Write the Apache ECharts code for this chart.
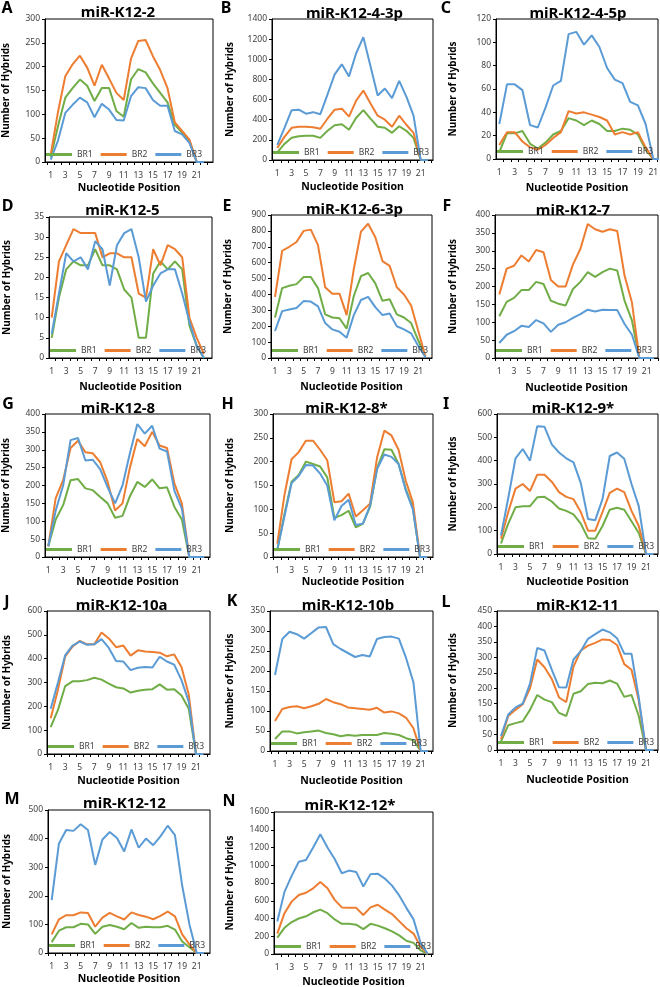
<!DOCTYPE html>
<html><head><meta charset="utf-8">
<script src="https://cdn.jsdelivr.net/npm/echarts@6/dist/echarts.min.js"></script>
<style>html,body{margin:0;padding:0;background:#fff}#c{width:660px;height:987px}</style>
</head><body><div id="c"></div>
<script>
// ---------- data ----------
const positions = [1,2,3,4,5,6,7,8,9,10,11,12,13,14,15,16,17,18,19,20,21,22];
const xTickLabels = [1,3,5,7,9,11,13,15,17,19,21];
const seriesNames = ['BR1','BR2','BR3'];
const panelLetters = ['A','B','C','D','E','F','G','H','I','J','K','L','M','N'];
const panelTitles = ['miR-K12-2','miR-K12-4-3p','miR-K12-4-5p','miR-K12-5','miR-K12-6-3p','miR-K12-7','miR-K12-8','miR-K12-8*','miR-K12-9*','miR-K12-10a','miR-K12-10b','miR-K12-11','miR-K12-12','miR-K12-12*'];
const yAxisMax = [300,1400,120,35,900,400,400,300,600,600,350,450,500,1600];
const yAxisStep = [50,200,20,5,100,50,50,50,100,100,50,50,100,200];

const A_BR1 = [10,75,135,155,173,160,128,155,155,107,95,173,195,188,165,145,125,78,62,45,0,0];
const A_BR2 = [15,105,180,205,223,198,160,204,175,145,130,217,254,256,222,193,155,83,65,47,0,0];
const A_BR3 = [5,45,103,120,135,125,94,122,110,88,87,138,157,155,130,118,118,65,58,40,0,0];

const B_BR1 = [75,160,220,235,240,240,220,290,345,355,300,420,495,410,330,320,270,335,290,220,0,0];
const B_BR2 = [120,230,320,330,330,325,310,410,500,510,430,590,690,560,440,400,330,440,350,270,0,0];
const B_BR3 = [150,320,495,500,460,475,455,650,850,950,830,1060,1220,930,640,710,615,785,630,440,0,0];

const C_BR1 = [6,22,22,24,13,9,14,21,24,35,33,29,33,30,24,24,26,25,21,8,0,0];
const C_BR2 = [12,23,23,15,10,8,12,18,23,41,39,40,38,36,33,21,23,21,23,10,0,0];
const C_BR3 = [30,64,64,59,29,27,44,63,67,107,109,98,106,96,78,68,65,49,46,30,0,0];

const D_BR1 = [5,15,22,24,23,23,27,23,23,22,17,15,5,5,21,24,22,24,22,8,3,0];
const D_BR2 = [10,24,28,32,31,31,31,25,26,26,25,25,16,15,27,23,28,27,25,10,5,1];
const D_BR3 = [6,16,26,24,25,22,29,27,18,28,31,32,25,14,18,21,22,22,16,9,3,0];

const E_BR1 = [255,440,455,465,510,510,440,275,255,250,185,390,515,535,470,360,370,275,255,220,110,10];
const E_BR2 = [385,675,700,730,800,808,710,445,405,405,270,560,795,845,760,610,580,445,400,330,170,10];
const E_BR3 = [170,295,305,315,358,355,325,220,180,165,128,270,365,385,320,270,280,200,180,155,75,5];

const F_BR1 = [117,157,168,190,190,213,207,160,152,147,193,213,240,227,240,250,245,160,105,0,0,0];
const F_BR2 = [178,250,258,287,270,302,296,218,200,200,262,305,375,360,353,360,355,230,155,0,0,0];
const F_BR3 = [42,65,75,90,87,106,97,73,93,100,112,123,135,130,135,134,134,95,65,0,0,0];

const G_BR1 = [30,105,145,215,218,192,187,168,150,110,115,170,210,196,217,192,195,140,105,0,0,0];
const G_BR2 = [30,165,215,305,325,293,290,265,210,130,150,250,330,310,350,312,305,205,150,0,0,0];
const G_BR3 = [30,130,200,327,333,270,272,245,195,150,200,290,372,345,367,303,295,185,135,0,0,0];

const H_BR1 = [15,90,158,172,200,195,190,167,82,88,97,62,70,105,187,226,225,195,143,103,0,0];
const H_BR2 = [28,130,205,220,244,244,225,203,115,117,133,85,98,112,210,265,255,225,160,115,0,0];
const H_BR3 = [15,85,155,170,193,192,175,150,77,107,120,67,70,108,185,215,210,195,140,100,0,0];

const I_BR1 = [45,130,200,205,205,243,245,225,195,185,170,130,68,65,120,190,198,190,140,90,0,0];
const I_BR2 = [65,180,280,300,270,340,340,310,265,245,235,180,100,100,180,262,280,265,185,120,0,0];
const I_BR3 = [80,240,410,450,400,548,545,470,435,410,393,305,150,145,235,420,435,408,300,205,0,0];

const J_BR1 = [113,185,285,305,305,310,320,312,295,280,275,258,265,270,272,292,270,272,245,190,0,0];
const J_BR2 = [150,270,410,450,475,460,460,510,485,448,455,413,435,430,428,425,410,418,365,250,0,0];
const J_BR3 = [190,300,415,455,472,458,460,482,445,390,388,352,362,365,363,408,388,375,310,220,0,0];

const K_BR1 = [30,49,49,44,47,49,51,45,42,37,40,38,40,40,40,45,43,40,32,27,0,0];
const K_BR2 = [75,105,110,112,107,112,118,130,122,117,109,107,105,103,108,96,99,94,83,57,0,0];
const K_BR3 = [190,280,298,292,281,295,309,310,267,255,245,235,240,236,280,285,286,281,232,172,0,0];

const L_BR1 = [28,80,87,93,130,178,163,155,120,110,182,190,214,218,216,225,215,172,178,110,0,0];
const L_BR2 = [35,110,130,148,200,293,268,230,170,155,270,322,338,347,358,356,340,278,260,160,0,0];
const L_BR3 = [45,115,138,150,215,330,322,260,203,202,293,320,360,375,390,381,362,312,312,170,0,0];

const M_BR1 = [38,78,90,90,102,100,67,92,98,92,83,105,88,92,90,90,95,82,40,20,0,0];
const M_BR2 = [65,118,132,132,142,140,92,124,140,128,117,142,133,127,118,130,145,128,65,30,0,0];
const M_BR3 = [185,383,430,427,450,430,308,397,423,402,355,432,368,400,377,408,445,412,235,100,0,0];

const N_BR1 = [185,295,360,400,425,470,500,460,390,340,340,330,280,340,320,290,255,210,150,125,40,0];
const N_BR2 = [230,460,590,665,690,740,810,740,610,525,520,520,440,525,555,500,450,370,290,230,80,0];
const N_BR3 = [365,700,880,1040,1060,1200,1350,1200,1070,910,940,925,760,900,905,850,770,660,520,390,120,0];

const panelData = [
  [A_BR1,A_BR2,A_BR3],[B_BR1,B_BR2,B_BR3],[C_BR1,C_BR2,C_BR3],
  [D_BR1,D_BR2,D_BR3],[E_BR1,E_BR2,E_BR3],[F_BR1,F_BR2,F_BR3],
  [G_BR1,G_BR2,G_BR3],[H_BR1,H_BR2,H_BR3],[I_BR1,I_BR2,I_BR3],
  [J_BR1,J_BR2,J_BR3],[K_BR1,K_BR2,K_BR3],[L_BR1,L_BR2,L_BR3],
  [M_BR1,M_BR2,M_BR3],[N_BR1,N_BR2,N_BR3]
];

// ---------- layout (pixels) ----------
// l,r,t,b: plot frame; c1,c21: pixel x of positions 1 and 21
const layout = [
  {l:45, r:213,t:19, b:162,c1:50.7, c21:196.7,tx:118,  ty:13,  lx:7,    ly:8,   yn:6,   xn:188},
  {l:272,r:433,t:19, b:160,c1:277.3,c21:420.7,tx:354.5,ty:14,  lx:226,  ly:8,   yn:230, xn:187},
  {l:496,r:658,t:19, b:159,c1:499.3,c21:653.3,tx:578,  ty:14,  lx:446,  ly:8,   yn:453, xn:188},
  {l:49, r:212,t:217,b:358,c1:51.7, c21:196.7,tx:122.5,ty:211, lx:7.5,  ly:206, yn:7,   xn:387},
  {l:271,r:432,t:215,b:358,c1:275,  c21:418.3,tx:354.5,ty:209.5,lx:227, ly:206, yn:228, xn:387},
  {l:495,r:658,t:215,b:358,c1:499.3,c21:646.7,tx:573,  ty:211, lx:447,  ly:206, yn:453, xn:388},
  {l:45, r:210,t:414,b:557,c1:48.3, c21:196.7,tx:118,  ty:409, lx:8,    ly:404, yn:6,   xn:582},
  {l:273,r:433,t:414,b:557,c1:277.3,c21:420,  tx:346.5,ty:409, lx:227.5,ly:404, yn:230, xn:582},
  {l:497,r:658,t:414,b:554,c1:501,  c21:646,  tx:573,  ty:409, lx:446,  ly:404, yn:453, xn:582},
  {l:47, r:210,t:611,b:754,c1:50.7, c21:196,  tx:121.7,ty:606, lx:7,    ly:602, yn:7,   xn:781},
  {l:270,r:433,t:611,b:751,c1:275,  c21:420.7,tx:348,  ty:606, lx:232,  ly:601, yn:230, xn:781},
  {l:497,r:658,t:611,b:750,c1:501,  c21:646,  tx:577.5,ty:606, lx:446,  ly:602, yn:453, xn:780},
  {l:48, r:210,t:810,b:953,c1:51.7, c21:196.7,tx:124.5,ty:804, lx:12,   ly:799, yn:7,   xn:979},
  {l:274,r:433,t:812,b:954,c1:277.3,c21:420.7,tx:350,  ty:806, lx:229,  ly:801, yn:230, xn:982}
];

const colors = ['#70AD47','#ED7D31','#5B9BD5'];
const FONT = '"Noto Sans", "Open Sans", sans-serif';
const tickColor = '#404040';

const grids = [], xAxes = [], yAxes = [], series = [], legends = [], graphics = [];

panelData.forEach((arrs, i) => {
  const L = layout[i];
  const s = (L.c21 - L.c1) / 20;
  const xmin = 1 - (L.c1 - L.l) / s;
  const xmax = 1 + (L.r - L.c1) / s;
  const tickVals = [];
  for (let v = 0.5; v <= 23.5; v += 1) if (v >= xmin && v <= xmax) tickVals.push(v);

  grids.push({left:L.l, top:L.t, width:L.r-L.l, height:L.b-L.t, show:true,
    borderColor:'#000', borderWidth:1, backgroundColor:'transparent', outerBoundsMode:'none', containLabel:false});

  xAxes.push({type:'value', gridIndex:i, min:xmin, max:xmax,
    axisLine:{show:true, onZero:false, lineStyle:{color:'#000', width:1}},
    axisTick:{show:true, inside:false, length:3, customValues:tickVals, lineStyle:{color:'#000'}},
    axisLabel:{customValues:xTickLabels, margin:9, fontSize:8.5, color:tickColor, fontFamily:FONT,
      formatter: v => String(v)},
    splitLine:{show:false}});

  yAxes.push({type:'value', gridIndex:i, min:0, max:yAxisMax[i], interval:yAxisStep[i],
    axisLine:{show:true, lineStyle:{color:'#000', width:1}},
    axisTick:{show:true, inside:false, length:3, lineStyle:{color:'#000'}},
    axisLabel:{margin:5, fontSize:8.5, color:tickColor, fontFamily:FONT, formatter: v => String(v)},
    splitLine:{show:false}});

  arrs.forEach((arr, j) => {
    series.push({type:'line', name:seriesNames[j], xAxisIndex:i, yAxisIndex:i,
      data: positions.map((p, k) => [p, arr[k]]),
      symbol:'none', showSymbol:false, animation:false,
      lineStyle:{width:2, color:colors[j]}, itemStyle:{color:colors[j]}});
  });

  legends.push({data:seriesNames, left:L.l+1, top:L.b-12, width:175, orient:'horizontal',
    icon:'rect', itemWidth:26, itemHeight:3,
    itemGap:8, padding:0, selectedMode:false,
    textStyle:{fontSize:8.5, color:tickColor, fontFamily:FONT}});

  graphics.push({type:'text', x:L.lx, y:L.ly, style:{text:panelLetters[i], font:'bold 16px '+FONT, fill:'#000',
    textAlign:'center', textVerticalAlign:'middle', align:'center', verticalAlign:'middle'}});
  graphics.push({type:'text', x:L.tx, y:L.ty, style:{text:panelTitles[i], font:'bold 15px '+FONT, fill:'#000',
    textAlign:'center', textVerticalAlign:'middle', align:'center', verticalAlign:'middle'}});
  graphics.push({type:'text', x:L.yn, y:(L.t+L.b)/2, rotation:Math.PI/2, style:{text:'Number of Hybrids', font:'bold 10px '+FONT, fill:'#000',
    textAlign:'center', textVerticalAlign:'middle', align:'center', verticalAlign:'middle'}});
  graphics.push({type:'text', x:(L.l+L.r)/2, y:L.xn, style:{text:'Nucleotide Position', font:'bold 10.5px '+FONT, fill:'#000',
    textAlign:'center', textVerticalAlign:'middle', align:'center', verticalAlign:'middle'}});
});

const chart = echarts.init(document.getElementById('c'), null, {renderer:'canvas'});
chart.setOption({
  animation:false,
  backgroundColor:'#fff',
  textStyle:{fontFamily:FONT},
  grid:grids, xAxis:xAxes, yAxis:yAxes, series:series, legend:legends,
  graphic:{elements:graphics}
});
</script></body></html>
